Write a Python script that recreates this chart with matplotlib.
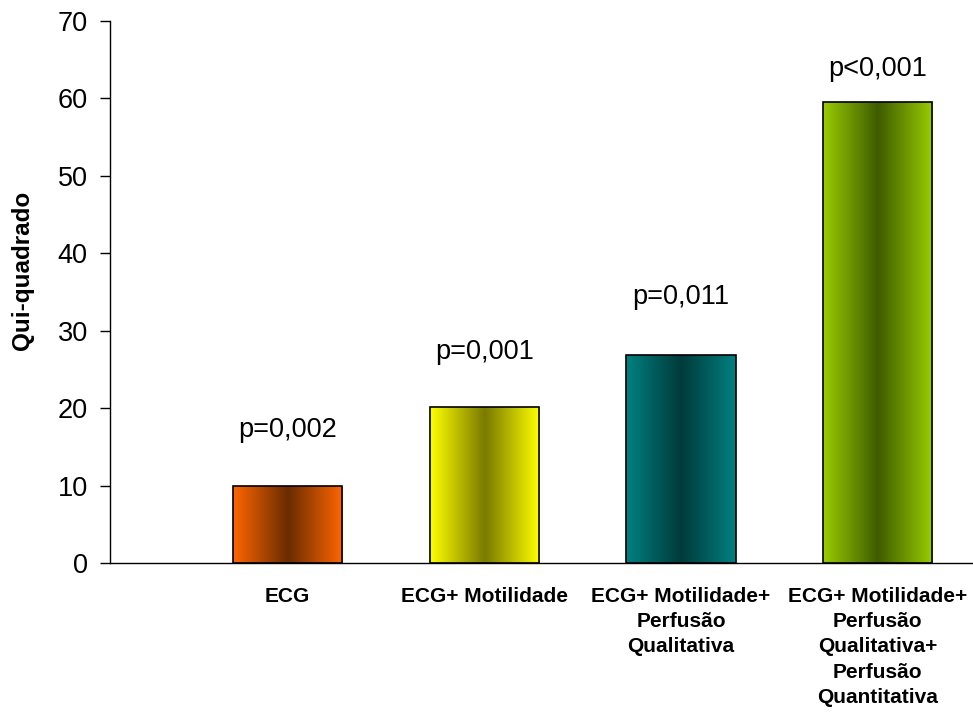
import numpy as np
import matplotlib.pyplot as plt
from matplotlib.colors import LinearSegmentedColormap

plt.rcParams['font.family'] = ['Liberation Sans', 'DejaVu Sans']

categories = ['ECG', 'ECG+ Motilidade', 'ECG+ Motilidade+\nPerfusão\nQualitativa',
              'ECG+ Motilidade+\nPerfusão\nQualitativa+\nPerfusão\nQuantitativa']
qui_quadrado = [9.9, 20.2, 26.8, 59.5]
p_labels = ['p=0,002', 'p=0,001', 'p=0,011', 'p<0,001']
label_offsets = [7.3, 7.1, 7.5, 4.3]

# (edge colour, centre colour) for the cylinder shading of each bar
shades = [('#ff6600', '#6a2c00'),
          ('#ffff00', '#7a7a00'),
          ('#008080', '#003b3b'),
          ('#99cc00', '#3f5c00')]

fig = plt.figure(figsize=(9.73, 7.2), dpi=100)
ax = fig.add_axes([0.113, 0.218, 0.887, 0.753])

x = np.arange(1, len(categories) + 1)
width = 0.555
bars = ax.bar(x, qui_quadrado, width=width, color='none', edgecolor='black',
              linewidth=1.2, zorder=3)

grad = np.concatenate([np.linspace(0, 1, 128), np.linspace(1, 0, 128)])[None, :]
for bar, (edge, centre) in zip(bars, shades):
    cmap = LinearSegmentedColormap.from_list('cyl', [edge, centre])
    x0, y0 = bar.get_x(), bar.get_y()
    im = ax.imshow(grad, cmap=cmap, aspect='auto', interpolation='bicubic',
                   extent=(x0, x0 + bar.get_width(), y0, y0 + bar.get_height()),
                   zorder=2)
    im.set_clip_path(bar)

for xi, v, lab, off in zip(x, qui_quadrado, p_labels, label_offsets):
    ax.text(xi, v + off, lab, ha='center', va='center', fontsize=19.5, color='black')

ax.set_xlim(0.098, 4.484)
ax.set_ylim(0, 70)
ax.set_yticks(range(0, 71, 10))
ax.set_xticks(x)
ax.set_xticklabels(categories, fontsize=15, fontweight='bold', linespacing=1.42)
ax.tick_params(axis='x', length=0, pad=17)
ax.tick_params(axis='y', direction='out', length=7, width=1, labelsize=19.5, pad=9)
ax.set_ylabel('Qui-quadrado', fontsize=17.5, fontweight='bold')
ax.yaxis.set_label_coords(-0.088, 0.539)

for side in ('top', 'right'):
    ax.spines[side].set_visible(False)
ax.spines['left'].set_linewidth(1)
ax.spines['bottom'].set_linewidth(1)

fig.savefig('out.png', dpi=100)
